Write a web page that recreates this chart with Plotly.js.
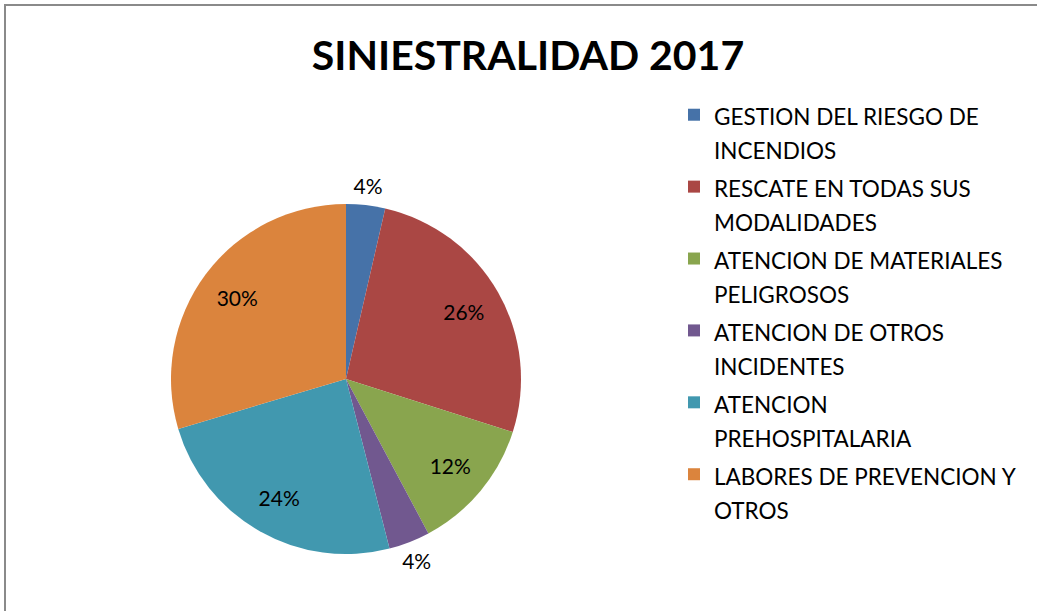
<!DOCTYPE html>
<html><head><meta charset="utf-8">
<script src="https://cdn.plot.ly/plotly-3.0.1.min.js"></script>
<style>
html,body{margin:0;padding:0;background:#fff;}
#chart{position:absolute;left:0;top:0;width:1037px;height:611px;}
#frame{position:absolute;left:4px;top:4px;width:1100px;height:700px;border:2px solid #8a8a8a;pointer-events:none;}
</style></head>
<body>
<div id="chart"></div>
<div id="frame"></div>
<script>
const categories = [
  "GESTION DEL RIESGO DE<br>INCENDIOS",
  "RESCATE EN TODAS SUS<br>MODALIDADES",
  "ATENCION DE MATERIALES<br>PELIGROSOS",
  "ATENCION DE OTROS<br>INCIDENTES",
  "ATENCION<br>PREHOSPITALARIA",
  "LABORES DE PREVENCION Y<br>OTROS"
];
const values = [3.6, 26.3, 12.3, 3.8, 24.4, 29.6];
const colors = ["#4672A8", "#AA4744", "#89A54E", "#71588F", "#4198AF", "#DB843D"];
// which labels sit on the slice and which sit just outside it
const innerLabelPos = ["none", "inside", "inside", "none", "inside", "inside"];
const outerLabelPos = ["inside", "none", "none", "inside", "none", "none"];

const W = 1037, H = 611;
const cx = 346, cy = 379, r = 175, rOut = 215;
const dom = {x: [(cx - r) / W, (cx + r) / W], y: [1 - (cy + r) / H, 1 - (cy - r) / H]};
const domOut = {x: [(cx - rOut) / W, (cx + rOut) / W], y: [1 - (cy + rOut) / H, 1 - (cy - rOut) / H]};
const legendLabels = categories.map(c => '<span style="font-size:22.5px">' + c.split('<br>').join('</span><br><span style="font-size:22.5px">') + '</span>');
const clear = colors.map(() => "rgba(0,0,0,0)");

const pie = {
  type: "pie",
  labels: legendLabels,
  values: values,
  sort: false,
  direction: "clockwise",
  rotation: 0,
  marker: {colors: colors, line: {width: 0}},
  textinfo: "none",
  automargin: false,
  hoverinfo: "none",
  domain: dom
};

const labelRing = {
  type: "pie",
  labels: legendLabels,
  values: values,
  sort: false,
  direction: "clockwise",
  rotation: 0,
  hole: 0.55,
  showlegend: false,
  marker: {colors: clear, line: {width: 0}},
  texttemplate: "%{percent:.0%}",
  textposition: innerLabelPos,
  insidetextorientation: "horizontal",
  textfont: {family: "Lato, sans-serif", size: 21, color: "#000"},
  automargin: false,
  hoverinfo: "none",
  domain: dom
};

const outerRing = {
  type: "pie",
  labels: legendLabels,
  values: values,
  sort: false,
  direction: "clockwise",
  rotation: 0,
  hole: r / rOut,
  showlegend: false,
  marker: {colors: clear, line: {width: 0}},
  texttemplate: "%{percent:.0%}",
  textposition: outerLabelPos,
  insidetextorientation: "horizontal",
  textfont: {family: "Lato, sans-serif", size: 21, color: "#000"},
  automargin: false,
  hoverinfo: "none",
  domain: domOut
};

const layout = {
  width: W, height: H,
  margin: {l: 0, r: 0, t: 0, b: 0},
  paper_bgcolor: "#fff",
  title: {
    text: "<b>SINIESTRALIDAD 2017</b>",
    font: {family: "Lato, sans-serif", size: 41, color: "#000"},
    x: 528 / W, xanchor: "center",
    y: 1 - 56 / H, yanchor: "middle"
  },
  showlegend: true,
  legend: {
    x: 674 / W, xanchor: "left",
    y: 1 - 91 / H, yanchor: "top",
    font: {family: "Lato, sans-serif", size: 26.5, color: "#000"},
    itemwidth: 30,
    valign: "top",
    bgcolor: "rgba(0,0,0,0)"
  }
};

Plotly.newPlot("chart", [pie, labelRing, outerRing], layout, {displayModeBar: false, staticPlot: true});
</script>
</body></html>
